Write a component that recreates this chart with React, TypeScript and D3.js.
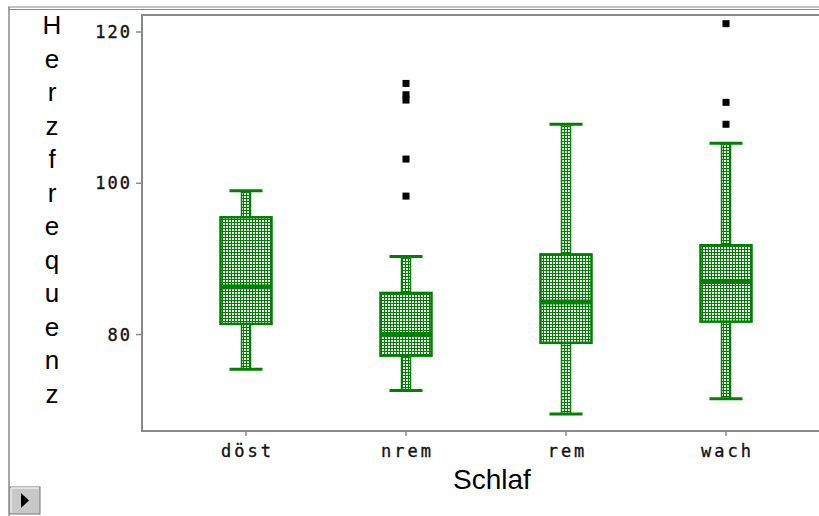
import React from "react";
import * as d3 from "d3";

const categories = ["döst", "nrem", "rem", "wach"];
const whiskerLow = [75.4, 72.6, 69.5, 71.5];
const q1 = [81.4, 77.2, 78.9, 81.7];
const median = [86.3, 80.0, 84.3, 87.0];
const q3 = [95.5, 85.5, 90.6, 91.8];
const whiskerHigh = [99.0, 90.3, 107.8, 105.3];
const outliers: [string, number][] = [
  ["nrem", 113.2],
  ["nrem", 111.7],
  ["nrem", 111.0],
  ["nrem", 103.2],
  ["nrem", 98.3],
  ["wach", 121.1],
  ["wach", 110.7],
  ["wach", 107.8],
];
const yTicks = [80, 100, 120];
const yLabel = "Herzfrequenz";
const xLabel = "Schlaf";

const W = 819;
const H = 516;
const left = 142;
const top = 15;
const bottom = 431;
const right = 832;

const GREEN = "#008000";
const GRAY = "#8a8a8a";

export default function App() {
  const y = d3.scaleLinear().domain([80, 120]).range([334.5, 32]);
  const x = d3.scalePoint<string>().domain(categories).range([246, 726]);
  const boxW = 51;
  const capW = 33;
  const stemW = 9;
  const tickFont = "'DejaVu Sans Mono', monospace";
  const labelFont = "'Liberation Sans', Arial, sans-serif";

  return (
    <svg
      width={W}
      height={H}
      style={{ position: "absolute", left: 0, top: 0, background: "#fff" }}
    >
      <defs>
        <pattern id="dots" width={3} height={3} patternUnits="userSpaceOnUse">
          <rect width={3} height={3} fill={GREEN} />
          <rect x={1} y={1} width={2} height={2} fill="#fff" />
        </pattern>
        <clipPath id="plotclip">
          <rect x={left} y={top} width={right - left} height={bottom - top} />
        </clipPath>
      </defs>

      {/* outer frame */}
      <line x1={8} x2={W} y1={7} y2={7} stroke={GRAY} strokeWidth={1.2} />
      <line x1={8} x2={W} y1={9.5} y2={9.5} stroke={GRAY} strokeWidth={1.2} />
      <line x1={9} x2={9} y1={7} y2={H} stroke={GRAY} strokeWidth={1.5} />

      {/* plot frame */}
      <rect
        x={left}
        y={top}
        width={right - left}
        height={bottom - top}
        fill="none"
        stroke={GRAY}
        strokeWidth={2}
      />

      {/* y ticks */}
      {yTicks.map((t) => (
        <g key={t}>
          <line x1={left - 6} x2={left} y1={y(t)} y2={y(t)} stroke={GRAY} strokeWidth={1.5} />
          <text
            x={left - 10}
            y={y(t)}
            dy="0.36em"
            textAnchor="end"
            fontFamily={tickFont}
            fontSize={17}
            letterSpacing={2}
            fill="#111"
            stroke="#111"
            strokeWidth={0.35}
          >
            {t}
          </text>
        </g>
      ))}

      {/* x ticks */}
      {categories.map((c) => (
        <g key={c}>
          <line x1={x(c)!} x2={x(c)!} y1={bottom} y2={bottom + 5} stroke={GRAY} strokeWidth={1.5} />
          <text
            x={x(c)! + 1.5}
            y={457}
            textAnchor="middle"
            fontFamily={tickFont}
            fontSize={17}
            letterSpacing={3}
            fill="#111"
            stroke="#111"
            strokeWidth={0.35}
          >
            {c}
          </text>
        </g>
      ))}

      {/* boxes */}
      <g clipPath="url(#plotclip)">
        {categories.map((c, i) => {
          const cx = x(c)!;
          return (
            <g key={c}>
              <rect
                x={cx - stemW / 2}
                y={y(whiskerHigh[i])}
                width={stemW}
                height={y(q3[i]) - y(whiskerHigh[i])}
                fill="url(#dots)"
                stroke={GREEN}
                strokeWidth={1.5}
              />
              <rect
                x={cx - stemW / 2}
                y={y(q1[i])}
                width={stemW}
                height={y(whiskerLow[i]) - y(q1[i])}
                fill="url(#dots)"
                stroke={GREEN}
                strokeWidth={1.5}
              />
              <line
                x1={cx - capW / 2}
                x2={cx + capW / 2}
                y1={y(whiskerHigh[i])}
                y2={y(whiskerHigh[i])}
                stroke={GREEN}
                strokeWidth={3}
              />
              <line
                x1={cx - capW / 2}
                x2={cx + capW / 2}
                y1={y(whiskerLow[i])}
                y2={y(whiskerLow[i])}
                stroke={GREEN}
                strokeWidth={3}
              />
              <rect
                x={cx - boxW / 2}
                y={y(q3[i])}
                width={boxW}
                height={y(q1[i]) - y(q3[i])}
                fill="url(#dots)"
                stroke={GREEN}
                strokeWidth={2.5}
              />
              <rect
                x={cx - boxW / 2}
                y={y(median[i]) - 2.5}
                width={boxW}
                height={5}
                fill={GREEN}
              />
            </g>
          );
        })}
        {outliers.map(([c, v], i) => (
          <rect
            key={i}
            x={x(c)! - 3.5}
            y={y(v) - 3.5}
            width={7}
            height={7}
            fill="#000"
          />
        ))}
      </g>

      {/* axis labels */}
      <text
        x={492}
        y={489}
        textAnchor="middle"
        fontFamily={labelFont}
        fontSize={28}
        fill="#000"
      >
        {xLabel}
      </text>
      {yLabel.split("").map((ch, i) => (
        <text
          key={i}
          x={52}
          y={34 + i * 33.5}
          textAnchor="middle"
          fontFamily={labelFont}
          fontSize={26}
          fill="#000"
        >
          {ch}
        </text>
      ))}

      {/* small button */}
      <rect x={10} y={487} width={30} height={27} fill="#c8c8c8" stroke="#777" strokeWidth={1} />
      <line x1={11} x2={39} y1={488} y2={488} stroke="#eee" strokeWidth={1.5} />
      <line x1={11} x2={11} y1={488} y2={513} stroke="#eee" strokeWidth={1.5} />
      <path d="M21,493 L29,500.5 L21,508 Z" fill="#000" />
    </svg>
  );
}
